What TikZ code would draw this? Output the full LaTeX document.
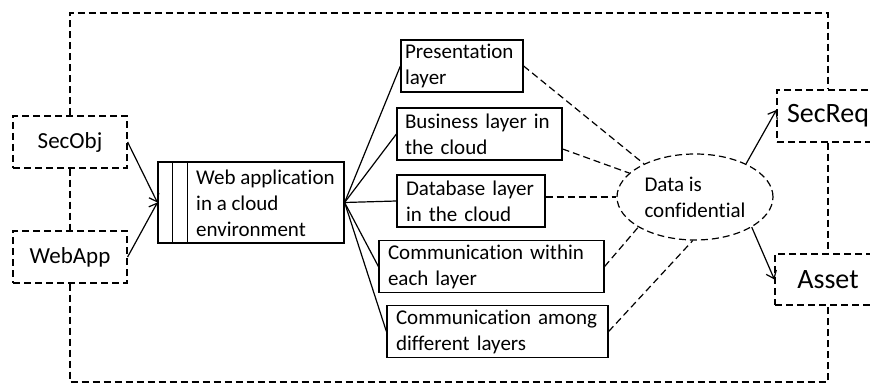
\documentclass[tikz,border=0pt]{standalone}
\usepackage{fontspec}
\setmainfont[Ligatures=NoCommon]{Carlito}
\usetikzlibrary{arrows.meta,shapes.geometric,calc}
\begin{document}
\begin{tikzpicture}[x=1pt,y=-1pt,
  sline/.style={line width=1.2pt},
  dline/.style={line width=1.2pt, dash pattern=on 7pt off 4pt},
  dbox/.style={draw, dline, fill=white, inner sep=0pt, minimum height=52pt},
  lbox/.style={draw, sline, fill=white, align=left, font=\fontsize{21}{26}\selectfont, minimum height=52pt, inner ysep=0pt},
  arr/.style={sline, -{Straight Barb[length=7pt,width=11pt]}}]
\useasboundingbox (0,0) rectangle (870,385);
% dashed context boxes
\node[dbox, minimum width=114pt, font=\fontsize{23}{28}\selectfont] (secobj) at (70,142) {SecObj};
\node[dbox, minimum width=114pt, font=\fontsize{23}{28}\selectfont] (webappc) at (70,257) {WebApp};
\node[dbox, minimum width=102pt, font=\fontsize{28}{34}\selectfont] (secreq) at (828,116) {SecReq};
\node[dbox, minimum width=106pt, minimum height=51pt, font=\fontsize{28}{34}\selectfont] (asset) at (828,279.5) {Asset};
% frame
\coordinate (ftop) at (0,13);
\coordinate (fbot) at (0,382);
\draw[dline] (secobj.north) -- (secobj.north |- ftop) -- (secreq.north |- ftop) -- (secreq.north);
\draw[dline] (secobj.south) -- (webappc.north);
\draw[dline] (secreq.south) -- (asset.north);
\draw[dline] (webappc.south) -- (webappc.south |- fbot) -- (asset.south |- fbot) -- (asset.south);
% web application box
\node[draw, sline, minimum width=186pt, minimum height=81pt] (webapp) at (251,202.5) {};
\draw[sline] ($(webapp.north west)+(15,0)$) -- ($(webapp.south west)+(15,0)$);
\draw[sline] ($(webapp.north west)+(30,0)$) -- ($(webapp.south west)+(30,0)$);
\node[anchor=west, align=left, inner sep=0pt, font=\fontsize{21}{26}\selectfont] (webtext) at (196,203) {Web application\\in a cloud\\environment};
% layer boxes
\node[lbox, minimum width=122pt, inner xsep=4pt, text width=114pt] (pres) at (462,66) {\mbox{Presentation}\\layer};
\node[lbox, minimum width=165pt, inner xsep=8pt, text width=149pt] (bus) at (479.5,134) {\mbox{Business layer in}\\the cloud};
\node[lbox, minimum width=148pt, inner xsep=9pt, text width=130pt] (db) at (471,201) {\mbox{Database layer}\\in the cloud};
\node[lbox, minimum width=225pt, inner xsep=9pt, text width=207pt] (within) at (491.5,266.5) {\mbox{Communication within}\\each layer};
\node[lbox, minimum width=221pt, inner xsep=9pt, text width=203pt] (among) at (497.5,331.5) {\mbox{Communication among}\\different layers};
% ellipse
\node[ellipse, draw, dline, minimum width=156pt, minimum height=86pt, align=left, inner sep=0pt, font=\fontsize{21}{26}\selectfont] (ell) at (695,197) {Data is\\confidential};
% connectors
\draw[arr] (secobj.east) -- (webapp.west);
\draw[arr] (webappc.east) -- (webapp.west);
\draw[sline] (webapp.east) -- (pres.west);
\draw[sline] (webapp.east) -- (bus.west);
\draw[sline] (webapp.east) -- (db.west);
\draw[sline] (webapp.east) -- (within.west);
\draw[sline] (webapp.east) -- (among.west);
\draw[dline] (pres.east) -- (ell.147);
\draw[dline] ($(bus.east)+(0,15)$) -- (ell.160);
\draw[dline] ($(db.east)+(0,-4)$) -- (ell.west);
\draw[dline] (within.east) -- (ell.208);
\draw[dline] (among.east) -- (ell.267);
\draw[arr] (ell.33) -- ($(secreq.west)+(0,-6)$);
\draw[arr] (ell.332) -- (asset.west);
\end{tikzpicture}
\end{document}
